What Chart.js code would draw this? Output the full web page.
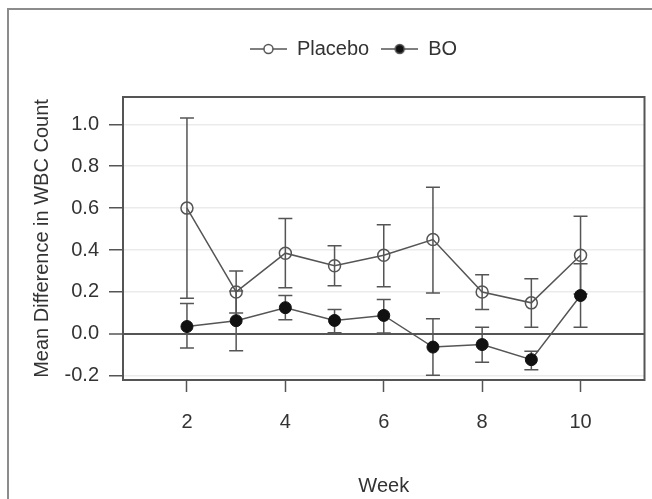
<!DOCTYPE html>
<html>
<head>
<meta charset="utf-8">
<script src="https://cdn.jsdelivr.net/npm/chart.js@4.4.0/dist/chart.umd.min.js"></script>
<style>
    html, body { margin: 0; padding: 0; background: #fff; overflow: hidden; }
    #frame { position: absolute; left: 7px; top: 8px; width: 700px; height: 600px; border: 2px solid #8c8c8c; }
    #wrap { position: absolute; left: 0; top: 0; width: 652px; height: 499px; }
</style>
</head>
<body>
<div id="frame"></div>
<div id="wrap"><canvas id="wbc-chart" width="652" height="499"></canvas></div>
<script>
// values
const weeks = [2, 3, 4, 5, 6, 7, 8, 9, 10];
const placebo = [0.60, 0.20, 0.385, 0.325, 0.375, 0.45, 0.20, 0.148, 0.375];
const placeboLow = [0.17, 0.10, 0.22, 0.23, 0.225, 0.195, 0.116, 0.032, 0.19];
const placeboHigh = [1.03, 0.30, 0.55, 0.42, 0.52, 0.70, 0.282, 0.263, 0.561];
const bo = [0.035, 0.063, 0.125, 0.064, 0.088, -0.063, -0.051, -0.123, 0.183];
const boLow = [-0.067, -0.08, 0.067, 0.005, 0.004, -0.197, -0.135, -0.171, 0.032];
const boHigh = [0.145, 0.205, 0.183, 0.116, 0.164, 0.072, 0.032, -0.083, 0.334];
const weekTicks = [2, 4, 6, 8, 10];
const diffTicks = [-0.2, 0, 0.2, 0.4, 0.6, 0.8, 1.0];

const FONT = "'Liberation Sans', Arial, sans-serif";
const INK = '#555';
const LEGEND_DX = 22;
const LEGEND_DY = -28;

function legendIcon(filled) {
    const c = document.createElement('canvas');
    c.width = 37;
    c.height = 14;
    const g = c.getContext('2d');
    g.strokeStyle = INK;
    g.lineWidth = 1.5;
    g.beginPath();
    g.moveTo(0, 7);
    g.lineTo(37, 7);
    g.stroke();
    g.beginPath();
    g.arc(18.5, 7, 4.5, 0, Math.PI * 2);
    g.fillStyle = filled ? '#111' : '#fff';
    g.fill();
    g.stroke();
    return c;
}
const icons = [legendIcon(false), legendIcon(true)];

const errorBars = {
    id: 'errorBars',
    beforeDatasetsDraw(chart) {
        const {ctx, chartArea, scales: {x, y}} = chart;
        ctx.save();
        // plot box
        ctx.strokeStyle = INK;
        ctx.lineWidth = 2;
        ctx.strokeRect(chartArea.left, chartArea.top, chartArea.width, chartArea.height);
        ctx.lineWidth = 1.5;
        [[placeboLow, placeboHigh], [boLow, boHigh]].forEach(([lo, hi]) => {
            weeks.forEach((w, i) => {
                const px = x.getPixelForValue(w);
                const top = y.getPixelForValue(hi[i]);
                const bot = y.getPixelForValue(lo[i]);
                ctx.beginPath();
                ctx.moveTo(px, top);
                ctx.lineTo(px, bot);
                ctx.moveTo(px - 7, top);
                ctx.lineTo(px + 7, top);
                ctx.moveTo(px - 7, bot);
                ctx.lineTo(px + 7, bot);
                ctx.stroke();
            });
        });
        ctx.restore();
    }
};

const legendNudge = {
    id: 'legendNudge',
    afterLayout(chart) {
        const l = chart.legend;
        l.left += LEGEND_DX;
        l.right += LEGEND_DX;
        l.top += LEGEND_DY;
        l.bottom += LEGEND_DY;
    }
};

new Chart(document.getElementById('wbc-chart'), {
    type: 'line',
    data: {
        datasets: [{
            label: 'Placebo',
            data: weeks.map((w, i) => ({x: w, y: placebo[i]})),
            borderColor: INK,
            borderWidth: 1.5,
            pointRadius: 6,
            pointBorderWidth: 1.5,
            pointBorderColor: INK,
            pointBackgroundColor: 'rgba(0,0,0,0)'
        }, {
            label: 'BO',
            data: weeks.map((w, i) => ({x: w, y: bo[i]})),
            borderColor: INK,
            borderWidth: 1.5,
            pointRadius: 6,
            pointBorderWidth: 1,
            pointBorderColor: '#111',
            pointBackgroundColor: '#111'
        }]
    },
    options: {
        responsive: false,
        animation: false,
        events: [],
        devicePixelRatio: 1,
        layout: {padding: {top: 55, left: 18, right: 7, bottom: 0}},
        scales: {
            x: {
                type: 'linear',
                min: 0.7,
                max: 11.3,
                afterBuildTicks: s => { s.ticks = weekTicks.map(v => ({value: v})); },
                afterFit: s => { s.height = 119; },
                ticks: {font: {family: FONT, size: 20}, color: '#333', padding: 18},
                grid: {drawOnChartArea: false, tickLength: 12, tickColor: INK, tickWidth: 1.5},
                border: {display: false},
                title: {
                    display: true,
                    text: 'Week',
                    font: {family: FONT, size: 20},
                    color: '#333',
                    padding: {top: 0, bottom: 1}
                }
            },
            y: {
                min: -0.22,
                max: 1.13,
                afterBuildTicks: s => { s.ticks = diffTicks.map(v => ({value: v})); },
                afterFit: s => { s.width = 105; },
                ticks: {
                    font: {family: FONT, size: 20},
                    color: '#333',
                    padding: 10,
                    callback: v => v.toFixed(1)
                },
                grid: {
                    color: c => c.tick && c.tick.value === 0 ? INK : '#ebebeb',
                    lineWidth: c => c.tick && c.tick.value === 0 ? 2 : 1.5,
                    tickLength: 14,
                    tickColor: INK,
                    tickWidth: 1.5
                },
                border: {display: false},
                title: {
                    display: true,
                    text: 'Mean Difference in WBC Count',
                    font: {family: FONT, size: 20},
                    color: '#333',
                    padding: {top: 12, bottom: 0}
                }
            }
        },
        plugins: {
            legend: {
                position: 'top',
                labels: {
                    font: {family: FONT, size: 20},
                    color: '#333',
                    padding: 12,
                    usePointStyle: true,
                    pointStyleWidth: 37,
                    generateLabels: chart => Chart.defaults.plugins.legend.labels.generateLabels(chart)
                        .map((item, i) => ({...item, pointStyle: icons[i]}))
                }
            },
            tooltip: {enabled: false}
        }
    },
    plugins: [errorBars, legendNudge]
});
</script>
</body>
</html>
